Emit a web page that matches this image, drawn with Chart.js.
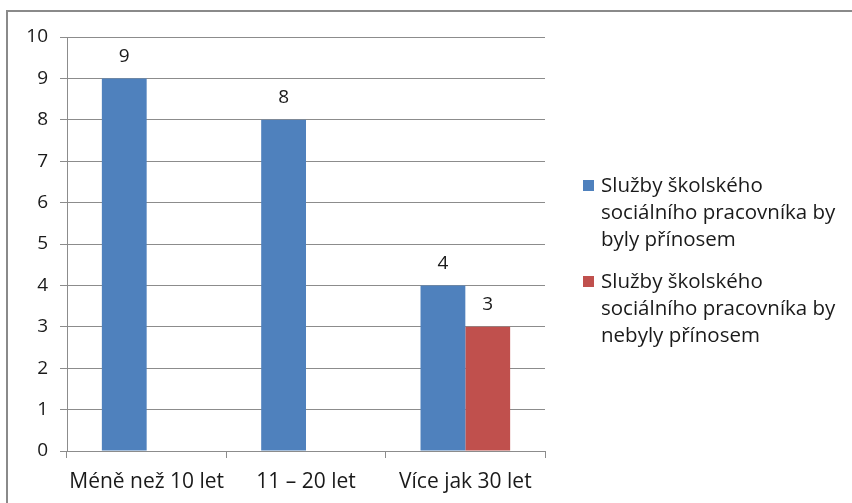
<!DOCTYPE html>
<html>
<head>
<meta charset="utf-8">
<script src="https://cdn.jsdelivr.net/npm/chart.js@4.4.1/dist/chart.umd.min.js"></script>
<style>
    html, body { margin: 0; padding: 0; background: #fff; overflow: hidden; }
    body { width: 852px; height: 503px; position: relative; font-family: 'Open Sans', sans-serif; }
    #frame { position: absolute; left: 6px; top: 10px; width: 900px; height: 600px; border: 2px solid #8a8a8a; box-sizing: border-box; }
    #wrap { position: absolute; left: 0; top: 0; width: 852px; height: 503px; }
    #legend { position: absolute; left: 583px; top: 171px; font-size: 20.5px; line-height: 27px; color: #1a1a1a; }
    .item { position: relative; padding-left: 18px; margin-bottom: 15px; }
    .sw { position: absolute; left: 0; top: 9px; width: 11px; height: 11px; }
</style>
</head>
<body>
<div id="frame"></div>
<div id="wrap"><canvas id="chart" width="852" height="503"></canvas></div>
<div id="legend"></div>
<script>
const categories = ['Méně než 10 let', '11 – 20 let', 'Více jak 30 let'];
const bylyPrinosem = [9, 8, 4];
const nebylyPrinosem = [0, 0, 3];
const seriesNames = [
    ['Služby školského', 'sociálního pracovníka by', 'byly přínosem'],
    ['Služby školského', 'sociálního pracovníka by', 'nebyly přínosem'],
];
const yMin = 0, yMax = 10, yStep = 1;

const colors = ['#4f81bd', '#c0504d'];
const gridColor = '#8c8c8c';
const textColor = '#1a1a1a';

// value labels above bars, zeros left out like in the original
const barLabels = {
    id: 'barLabels',
    afterDatasetsDraw(chart) {
        const ctx = chart.ctx;
        ctx.save();
        ctx.font = '19px "Open Sans"';
        ctx.fillStyle = textColor;
        ctx.textAlign = 'center';
        ctx.textBaseline = 'middle';
        chart.data.datasets.forEach((ds, i) => {
            chart.getDatasetMeta(i).data.forEach((bar, j) => {
                if (!ds.data[j]) return;
                ctx.fillText(ds.data[j], bar.x, bar.y - 22);
            });
        });
        ctx.restore();
    },
};

new Chart(document.getElementById('chart'), {
    type: 'bar',
    data: {
        labels: categories,
        datasets: [
            { data: bylyPrinosem, backgroundColor: colors[0] },
            { data: nebylyPrinosem, backgroundColor: colors[1] },
        ],
    },
    options: {
        responsive: false,
        animation: false,
        categoryPercentage: 0.5625,
        barPercentage: 1,
        layout: { padding: { top: 37, right: 307, left: 0, bottom: 0 } },
        plugins: { legend: { display: false }, tooltip: { enabled: false } },
        scales: {
            x: {
                grid: { drawOnChartArea: false, color: gridColor, tickLength: 7 },
                border: { color: gridColor },
                ticks: {
                    color: textColor, font: { family: 'Open Sans', size: 21 }, padding: 11,
                    autoSkip: false, maxRotation: 0, minRotation: 0,
                },
                afterFit: s => { s.height = 52; },
            },
            y: {
                min: yMin, max: yMax,
                grid: { color: gridColor, tickLength: 7 },
                border: { color: gridColor },
                ticks: { stepSize: yStep, color: textColor, font: { family: 'Open Sans', size: 19 }, padding: 12 },
                afterFit: s => { s.width = 67; },
            },
        },
    },
    plugins: [barLabels],
});

document.getElementById('legend').innerHTML = seriesNames.map((lines, i) =>
    `<div class="item"><span class="sw" style="background:${colors[i]}"></span>${lines.join('<br>')}</div>`
).join('');
</script>
</body>
</html>
